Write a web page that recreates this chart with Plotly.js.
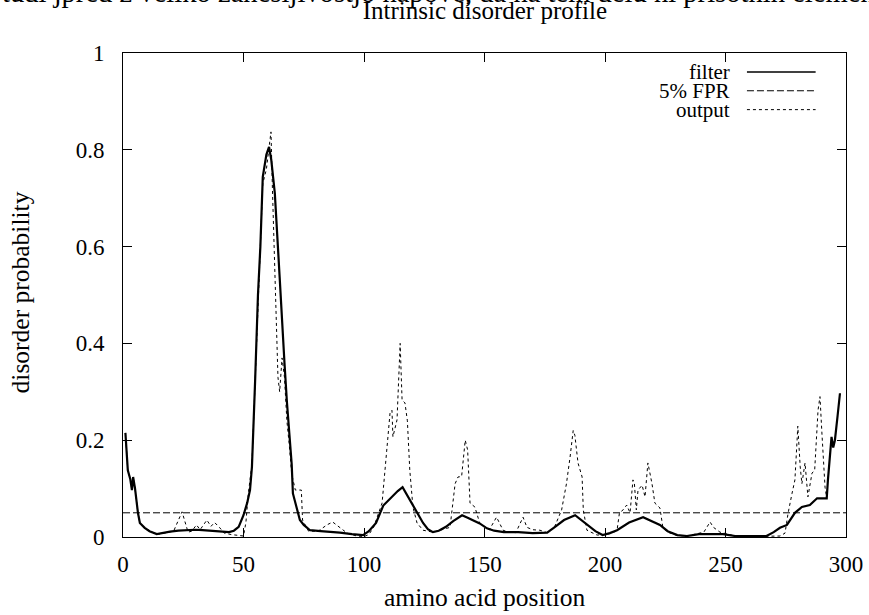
<!DOCTYPE html>
<html>
<head>
<meta charset="utf-8">
<script src="https://cdn.plot.ly/plotly-3.0.1.min.js"></script>
<style>html,body{margin:0;padding:0;background:#fff;}#chart{width:869px;height:615px;}</style>
</head>
<body>
<div id="chart"></div>
<script>
// ---- data ----
const filterX = [1,2,3,3.7,4.2,5,6.2,7,9,11,14,17,19.5,23,26.5,30,33,36,40,44,46,48,50,51.5,52.7,53.5,54.8,56,57,58,59.5,60.6,61.5,63,65,66,67,68,69.3,70,70.5,72,73.4,75,77.6,82,86,90,95,99.6,102,105,108,110,112,114,116,118,120,122,124.5,126.5,128.6,131,134,137,140.7,143,145,148,151,154,158,164,170,176,179,183,187.6,190,192.5,196,199,202,205,210,215.8,219,222.8,226,230,234,239,249,254,260,267,270,272.6,275.5,278.8,281.7,285,288,292,292.5,294,294.7,295.4,296.5,297.5];
const filterY = [0.215,0.138,0.12,0.097,0.124,0.10,0.05,0.029,0.019,0.012,0.006,0.009,0.011,0.013,0.014,0.015,0.014,0.013,0.011,0.010,0.013,0.021,0.045,0.07,0.097,0.145,0.32,0.5,0.6,0.744,0.79,0.806,0.78,0.71,0.537,0.44,0.36,0.28,0.194,0.15,0.09,0.06,0.035,0.025,0.014,0.012,0.011,0.009,0.006,0.004,0.012,0.029,0.065,0.075,0.087,0.095,0.103,0.085,0.07,0.05,0.029,0.016,0.010,0.013,0.021,0.033,0.045,0.04,0.035,0.028,0.018,0.013,0.010,0.010,0.008,0.009,0.02,0.035,0.045,0.036,0.025,0.012,0.004,0.008,0.014,0.03,0.041,0.034,0.025,0.012,0.004,0.002,0.006,0.006,0.002,0.002,0.002,0.01,0.019,0.025,0.05,0.062,0.066,0.08,0.08,0.118,0.207,0.185,0.20,0.25,0.297];

const outputX = [1,2,3,3.7,4.2,5,6.2,7,9,12,15,18,21,24.5,27,28.5,30.5,32,34.8,36.5,38,40,42,45,48,50,51,52,53.5,54.8,56,57,58,59.5,60.6,61.4,62,62.8,63.5,64.3,65,66,67,68,69,70,71.5,74,74.5,77,81,84.6,87,90,93,97,100,102,104,107.5,108.7,110.8,111.6,112,113.7,115,115.8,117,118,119,120.3,122,124.5,128.6,131,134,135.7,137.8,139,140.5,142,143,144,146,147,148,150,152,155,157.7,160,163,166,167.6,170,173,176,179,182,184,185.5,186.8,187.5,188.8,190.5,191,192.5,196.7,200,203,205,206,207.5,209,210.4,211.6,212.2,213,213.7,215.4,216.6,217.8,219.5,220.7,222.8,224,226,230,234,238,241,243.6,245,247.7,250,254,260,267,272.6,274.7,276,277.6,278.8,279.7,280,281,281.7,283,284.2,285.9,287,288.4,289.2,290,291.3,292];
const outputY = [0.215,0.138,0.12,0.097,0.124,0.10,0.05,0.029,0.019,0.010,0.006,0.009,0.012,0.052,0.01,0.012,0.025,0.015,0.035,0.022,0.03,0.02,0.008,0.005,0.003,0.002,0.03,0.09,0.15,0.32,0.5,0.62,0.73,0.76,0.80,0.837,0.72,0.6,0.45,0.33,0.30,0.37,0.33,0.24,0.19,0.13,0.097,0.097,0.035,0.012,0.012,0.025,0.031,0.02,0.008,0.002,0.001,0.005,0.02,0.07,0.138,0.256,0.262,0.207,0.242,0.40,0.283,0.277,0.24,0.138,0.062,0.029,0.014,0.010,0.013,0.018,0.02,0.11,0.124,0.125,0.20,0.18,0.07,0.062,0.045,0.029,0.022,0.015,0.041,0.014,0.010,0.009,0.041,0.02,0.015,0.014,0.009,0.02,0.056,0.11,0.165,0.22,0.21,0.153,0.124,0.056,0.014,0.004,0.005,0.008,0.014,0.05,0.056,0.066,0.05,0.118,0.11,0.056,0.097,0.107,0.083,0.153,0.11,0.07,0.06,0.02,0.01,0.003,0.002,0.006,0.01,0.031,0.02,0.01,0.007,0.002,0.001,0.001,0.002,0.008,0.05,0.09,0.118,0.20,0.229,0.145,0.11,0.153,0.083,0.132,0.138,0.262,0.29,0.215,0.103,0.08];

const fprX = [0, 300];
const fprY = [0.05, 0.05];

const xTicks = [0, 50, 100, 150, 200, 250, 300];
const yTicks = [0, 0.2, 0.4, 0.6, 0.8, 1];
const legendNames = ['filter', '5% FPR', 'output'];

// ---- chart ----
const serif = 'Liberation Serif, Times New Roman, serif';
const traces = [
  {x: outputX, y: outputY, mode: 'lines', name: legendNames[2], line: {color: '#000', width: 1, dash: '3px,3px'}},
  {x: fprX, y: fprY, mode: 'lines', name: legendNames[1], line: {color: '#000', width: 1, dash: '7px,3px'}},
  {x: filterX, y: filterY, mode: 'lines', name: legendNames[0], line: {color: '#000', width: 2.2}}
];

const legY = [0.961, 0.922, 0.883];
const legDash = ['solid', '7px,3px', '3px,3px'];
const legW = [1.5, 1, 1];
const annotations = [
  {text: 'tudi jpred z veliko zanesljivostjo napove, da na tem delu ni prisotnih elementov', xref: 'paper', yref: 'paper',
   x: -0.170, y: 1.124, xanchor: 'left', yanchor: 'middle', showarrow: false, font: {family: serif, size: 28.6, color: '#000'}},
  {text: 'disorder probability', xref: 'paper', yref: 'paper', x: -0.142, y: 0.506, xanchor: 'center', yanchor: 'middle',
   textangle: -90, showarrow: false, font: {family: serif, size: 25.5, color: '#000'}},
  {text: 'amino acid position', xref: 'paper', yref: 'paper', x: 0.5, y: -0.126, xanchor: 'center', yanchor: 'middle',
   showarrow: false, font: {family: serif, size: 25.5, color: '#000'}}
];
const shapes = [];
legendNames.forEach((n, i) => {
  annotations.push({text: n, xref: 'paper', yref: 'paper', x: 0.842, y: legY[i], xanchor: 'right', yanchor: 'middle',
    showarrow: false, font: {family: serif, size: 21, color: '#000'}});
  shapes.push({type: 'line', xref: 'paper', yref: 'paper', x0: 0.863, x1: 0.958, y0: legY[i], y1: legY[i],
    line: {color: '#000', width: legW[i], dash: legDash[i]}});
});

const axisCommon = {
  showgrid: false, zeroline: false, showline: true, linecolor: '#000', linewidth: 1,
  mirror: 'ticks', ticks: 'inside', ticklen: 9, tickcolor: '#000', tickwidth: 1,
  tickfont: {family: serif, size: 23, color: '#000'}
};

const layout = {
  width: 869, height: 615,
  margin: {l: 123, r: 23, t: 53, b: 78},
  paper_bgcolor: '#fff', plot_bgcolor: '#fff',
  showlegend: false,
  title: {text: 'Intrinsic disorder profile', font: {family: serif, size: 25, color: '#000'},
          x: 0.558, xanchor: 'center', y: 0.983, yanchor: 'middle'},
  xaxis: Object.assign({}, axisCommon, {range: [0, 300], tickvals: xTicks, ticklabelstandoff: 6}),
  yaxis: Object.assign({}, axisCommon, {range: [0, 1], tickvals: yTicks, ticklabelstandoff: 13}),
  annotations: annotations,
  shapes: shapes
};

Plotly.newPlot('chart', traces, layout, {staticPlot: true, displayModeBar: false});
</script>
</body>
</html>
